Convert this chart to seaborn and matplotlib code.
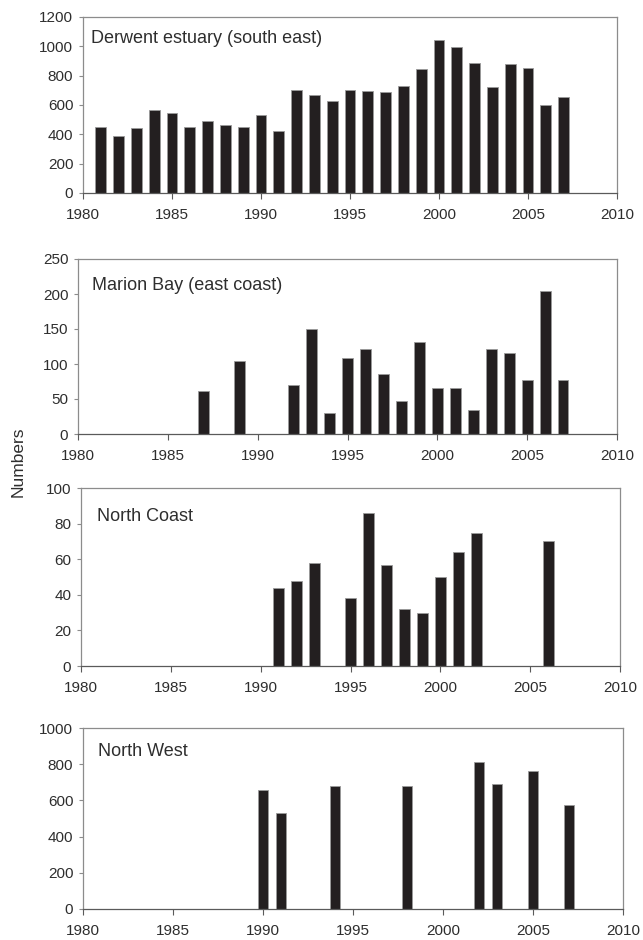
import numpy as np
import pandas as pd
import matplotlib
matplotlib.use("Agg")
import matplotlib.pyplot as plt
import seaborn as sns

# ---- data ----
derwent_years = list(range(1981, 2008))
derwent_vals = [450, 390, 440, 565, 548, 450, 490, 465, 450, 533, 425, 700, 668,
                625, 703, 697, 690, 730, 848, 1040, 998, 884, 726, 880, 853, 598, 655]

marion_years = [1987, 1989, 1992, 1993, 1994, 1995, 1996, 1997, 1998, 1999, 2000,
                2001, 2002, 2003, 2004, 2005, 2006, 2007]
marion_vals = [62, 105, 70, 150, 30, 108, 121, 86, 47, 132, 66, 66, 35, 122, 116,
               77, 204, 77]

north_coast_years = [1991, 1992, 1993, 1995, 1996, 1997, 1998, 1999, 2000, 2001, 2002, 2006]
north_coast_vals = [44, 48, 58, 38, 86, 57, 32, 30, 50, 64, 75, 70]

north_west_years = [1990, 1991, 1994, 1998, 2002, 2003, 2005, 2007]
north_west_vals = [660, 528, 682, 678, 810, 690, 765, 575]

panel_titles = ["Derwent estuary (south east)", "Marion Bay (east coast)",
                "North Coast", "North West"]
panel_ymax = [1200, 250, 100, 1000]
panel_ystep = [200, 50, 20, 200]
x_ticks = [1980, 1985, 1990, 1995, 2000, 2005, 2010]
y_label = "Numbers"

# ---- style ----
sns.set_theme(style="white")
plt.rcParams['font.family'] = ['Liberation Sans', 'DejaVu Sans']

W, H = 643, 940
fig = plt.figure(figsize=(W / 100, H / 100), dpi=100)

# (left, right, top, bottom) in pixels for each panel
boxes = [(83, 617, 17, 193), (78, 617, 259, 434), (81, 620, 488, 666), (83, 623, 728, 909)]
# title positions (x, baseline y) in pixels
title_pos = [(91, 43), (92, 290), (97, 521), (98, 756)]

series = [(derwent_years, derwent_vals), (marion_years, marion_vals),
          (north_coast_years, north_coast_vals), (north_west_years, north_west_vals)]

bar_color = "#231f20"
frame_color = "#8c8c8c"
text_color = "#2e2e2e"

for i, ((yrs, vals), (l, r, t, b)) in enumerate(zip(series, boxes)):
    ax = fig.add_axes([l / W, 1 - b / H, (r - l) / W, (b - t) / H])
    df = pd.DataFrame({"year": yrs, "value": vals})
    sns.barplot(data=df, x="year", y="value", native_scale=True, color=bar_color,
                width=0.6, saturation=1, ax=ax, edgecolor="#9a9a9a", linewidth=0.6)
    ax.set_xlim(1980, 2010)
    ax.set_ylim(0, panel_ymax[i])
    ax.set_xticks(x_ticks)
    ax.set_xticklabels([str(tk) for tk in x_ticks])
    ax.set_yticks(np.arange(0, panel_ymax[i] + 1, panel_ystep[i]))
    ax.set_xlabel("")
    ax.set_ylabel("")
    for s in ax.spines.values():
        s.set_color(frame_color)
        s.set_linewidth(0.9)
    ax.spines['bottom'].set_color("#5a5a5a")
    ax.tick_params(axis="x", bottom=True, direction="out", length=4, width=0.8,
                   color="#5a5a5a", labelsize=11, labelcolor=text_color, pad=6.5)
    ax.tick_params(axis="y", left=True, direction="out", length=3, width=0.8,
                   color="#8c8c8c", labelsize=11, labelcolor=text_color, pad=4)
    tx, ty = title_pos[i]
    fig.text(tx / W, 1 - ty / H, panel_titles[i], ha="left", va="baseline",
             fontsize=13, color=text_color)

fig.text(18 / W, 1 - 462 / H, y_label, rotation=90, ha="center", va="center",
         fontsize=12.5, color=text_color)

fig.savefig("out.png", dpi=100, facecolor="white")
